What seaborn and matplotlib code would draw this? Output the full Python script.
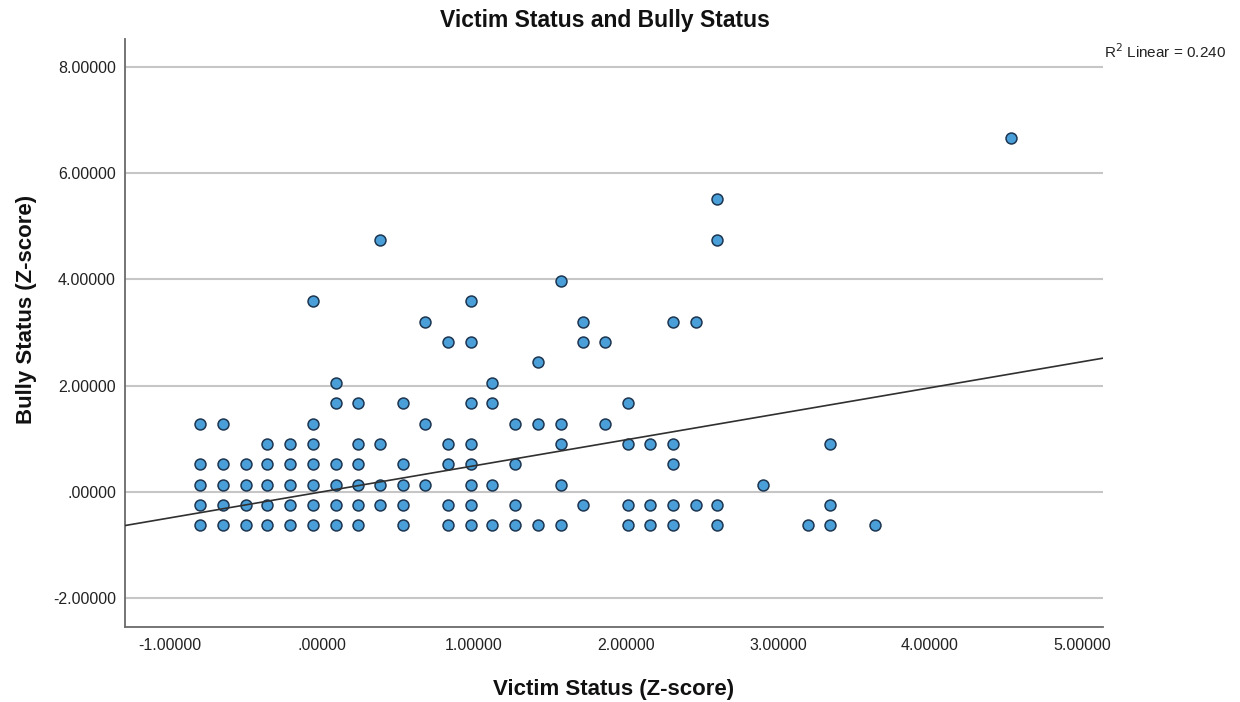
import numpy as np
import pandas as pd
import matplotlib
matplotlib.use("Agg")
import matplotlib.pyplot as plt
import seaborn as sns

# Victim z-score levels (one entry per distinct column of points)
victim_levels = [-0.80, -0.65, -0.50, -0.36, -0.21, -0.06, 0.09, 0.24, 0.38, 0.53,
                 0.68, 0.83, 0.98, 1.12, 1.27, 1.42, 1.57, 1.72, 1.86, 2.01,
                 2.16, 2.31, 2.46, 2.60, 2.90, 3.20, 3.34, 3.64, 4.53]

# Bully z-scores observed at each victim level
bully_at_level = [
    [-0.63, -0.25, 0.13, 0.52, 1.28],
    [-0.63, -0.25, 0.13, 0.52, 1.28],
    [-0.63, -0.25, 0.13, 0.52],
    [-0.63, -0.25, 0.13, 0.52, 0.90],
    [-0.63, -0.25, 0.13, 0.52, 0.90],
    [-0.63, -0.25, 0.13, 0.52, 0.90, 1.28, 3.59],
    [-0.63, -0.25, 0.13, 0.52, 1.67, 2.05],
    [-0.63, -0.25, 0.13, 0.52, 0.90, 1.67],
    [-0.25, 0.13, 0.90, 4.74],
    [-0.63, -0.25, 0.13, 0.52, 1.67],
    [0.13, 1.28, 3.20],
    [-0.63, -0.25, 0.52, 0.90, 2.82],
    [-0.63, -0.25, 0.13, 0.52, 0.90, 1.67, 2.82, 3.59],
    [-0.63, 0.13, 1.67, 2.05],
    [-0.63, -0.25, 0.52, 1.28],
    [-0.63, 1.28, 2.44],
    [-0.63, 0.13, 0.90, 1.28, 3.97],
    [-0.25, 2.82, 3.20],
    [1.28, 2.82],
    [-0.63, -0.25, 0.90, 1.67],
    [-0.63, -0.25, 0.90],
    [-0.63, -0.25, 0.52, 0.90, 3.20],
    [-0.25, 3.20],
    [-0.63, -0.25, 4.74, 5.51],
    [0.13],
    [-0.63],
    [-0.63, -0.25, 0.90],
    [-0.63],
    [6.67],
]

# Linear fit reported for the standardized scores
r_squared = 0.240
fit_intercept = 0.0
fit_slope = np.sqrt(r_squared)

x_ticks = [-1, 0, 1, 2, 3, 4, 5]
y_ticks = [-2, 0, 2, 4, 6, 8]

df = pd.DataFrame(
    [(x, y) for x, ys in zip(victim_levels, bully_at_level) for y in ys],
    columns=["victim", "bully"],
)

sns.set_style("white")
plt.rcParams["font.family"] = ["Liberation Sans", "DejaVu Sans"]

fig = plt.figure(figsize=(12.4, 7.02), dpi=100)
ax = fig.add_axes([0.1008, 0.1068, 0.7887, 0.8382])

sns.scatterplot(data=df, x="victim", y="bully", ax=ax, s=62,
                color="#4a9fd9", edgecolor="#1d3550", linewidth=1.1,
                zorder=3, legend=False)

ax.axline((0, fit_intercept), slope=fit_slope, color="#303030", lw=1.2, zorder=4)

ax.set_xlim(-1.296, 5.138)
ax.set_ylim(-2.546, 8.535)


def fmt(v):
    s = f"{v:.5f}"
    if s.startswith("0."):
        s = s[1:]
    return s


ax.set_xticks(x_ticks)
ax.set_xticklabels([fmt(v) for v in x_ticks])
ax.set_yticks(y_ticks)
ax.set_yticklabels([fmt(v) for v in y_ticks])
ax.tick_params(axis="both", length=0, labelsize=11.5, colors="#222222")
ax.tick_params(axis="y", pad=6.5)
ax.tick_params(axis="x", pad=8)

ax.set_axisbelow(True)
ax.yaxis.grid(True, color="#c6c6c6", lw=1.5)
ax.xaxis.grid(False)
for side in ["top", "right"]:
    ax.spines[side].set_visible(False)
for side in ["left", "bottom"]:
    ax.spines[side].set_color("#6a6a6a")
    ax.spines[side].set_linewidth(1.3)

ax.set_title("Victim Status and Bully Status", fontsize=16.5,
             fontweight="bold", pad=8.4, color="#111111", x=0.491)
ax.set_xlabel("Victim Status (Z-score)", fontsize=16,
              fontweight="bold", color="#111111")
ax.set_ylabel("Bully Status (Z-score)", fontsize=16,
              fontweight="bold", color="#111111")
ax.xaxis.set_label_coords(0.5, -0.088)
ax.yaxis.set_label_coords(-0.090, 0.539)

fig.text(1104 / 1240, 1 - 58 / 702, f"R$^2$ Linear = {r_squared:.3f}",
         fontsize=11, ha="left", va="baseline", color="#222222")

fig.savefig("out.png", dpi=100)
